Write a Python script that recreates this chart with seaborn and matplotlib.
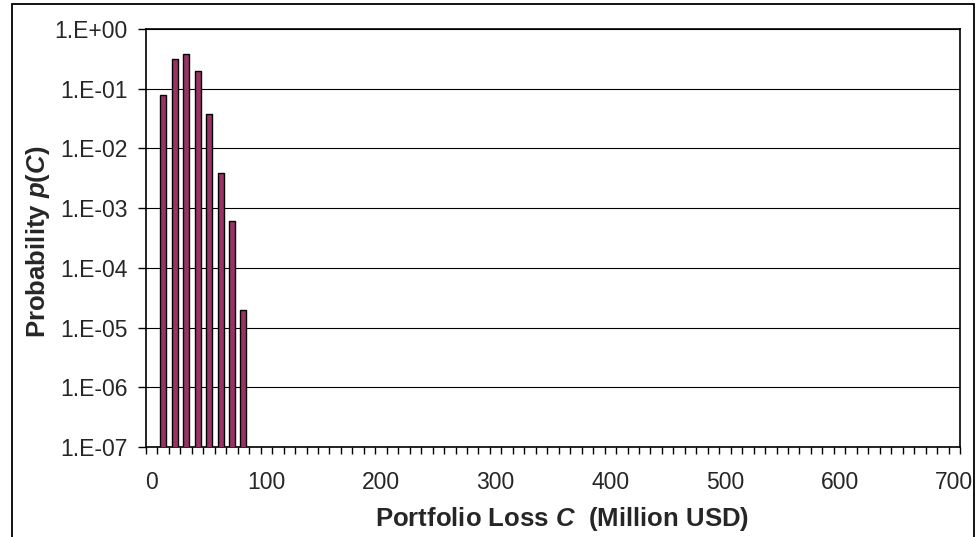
import numpy as np
import pandas as pd
import matplotlib
matplotlib.use("Agg")
import matplotlib.pyplot as plt
from matplotlib.patches import Rectangle
from matplotlib.ticker import LogLocator, NullLocator, FuncFormatter
import seaborn as sns

# Loss distribution of the portfolio (loss in million USD, probability)
loss_values = [10, 20, 30, 40, 50, 60, 70, 80]
probabilities = [0.077, 0.31, 0.38, 0.20, 0.038, 0.0039, 0.0006, 0.00002]

# Category axis: one slot per 10 million USD, from 0 to 700
loss_categories = list(range(0, 701, 10))
x_tick_labels = ["0", "100", "200", "300", "400", "500", "600", "700"]

sns.set_theme(style="white")
plt.rcParams["font.family"] = ["Liberation Sans", "DejaVu Sans"]
plt.rcParams["mathtext.fontset"] = "custom"
plt.rcParams["mathtext.rm"] = "Liberation Sans:bold"
plt.rcParams["mathtext.it"] = "Liberation Sans:italic:bold"
plt.rcParams["mathtext.bf"] = "Liberation Sans:bold"

df = pd.DataFrame({"loss": loss_values, "prob": probabilities})

fig = plt.figure(figsize=(9.78, 5.37), dpi=100)
ax = fig.add_axes([146 / 978, 1 - 447 / 537, (960 - 146) / 978, (447 - 29) / 537])
ax.set_yscale("log")

sns.barplot(data=df, x="loss", y="prob", order=loss_categories,
            color="#993366", saturation=1, edgecolor="black",
            linewidth=1.0, width=0.52, ax=ax, zorder=3)

ax.set_ylim(1e-7, 1)
ax.set_xlim(-0.5, len(loss_categories) - 0.5)

# y axis: one labelled tick per decade
ax.yaxis.set_major_locator(LogLocator(base=10, numticks=12))
ax.yaxis.set_minor_locator(NullLocator())
ax.yaxis.set_major_formatter(
    FuncFormatter(lambda v, pos: "1.E{:+03d}".format(int(round(np.log10(v))))))
ax.tick_params(axis="y", which="major", direction="out", length=6,
               width=1, color="black", pad=7, labelsize=16.5, left=True)

# x axis: labels every 100, tick marks between categories
ax.set_xticks(range(0, len(loss_categories), 10))
ax.set_xticklabels(x_tick_labels)
ax.set_xticks(np.arange(-0.5, len(loss_categories), 1), minor=True)
ax.tick_params(axis="x", which="major", length=0, pad=17, labelsize=16.5)
ax.tick_params(axis="x", which="minor", direction="out", length=5,
               width=1, color="black", bottom=True)

ax.yaxis.grid(True, color="black", linewidth=0.8)
ax.xaxis.grid(False)
ax.set_axisbelow(True)

for side in ["left", "right", "top", "bottom"]:
    ax.spines[side].set_visible(True)
    ax.spines[side].set_color("black")
    ax.spines[side].set_linewidth(1.2)

ax.set_xlabel(r"Portfolio Loss $\mathit{C}$  (Million USD)",
              fontsize=18.5, fontweight="bold")
ax.xaxis.set_label_coords(0.511, -0.139)
ax.set_ylabel(r"Probability $\mathit{p(C)}$", fontsize=18.5, fontweight="bold")
ax.yaxis.set_label_coords(-0.1155, 0.49)

# outer chart frame
fig.patches.append(Rectangle((12 / 978, -0.02), (974 - 12) / 978, 1.02 - 4 / 537,
                             transform=fig.transFigure, fill=False,
                             edgecolor="black", linewidth=1.3))

fig.savefig("out.png", dpi=100, facecolor="white")
